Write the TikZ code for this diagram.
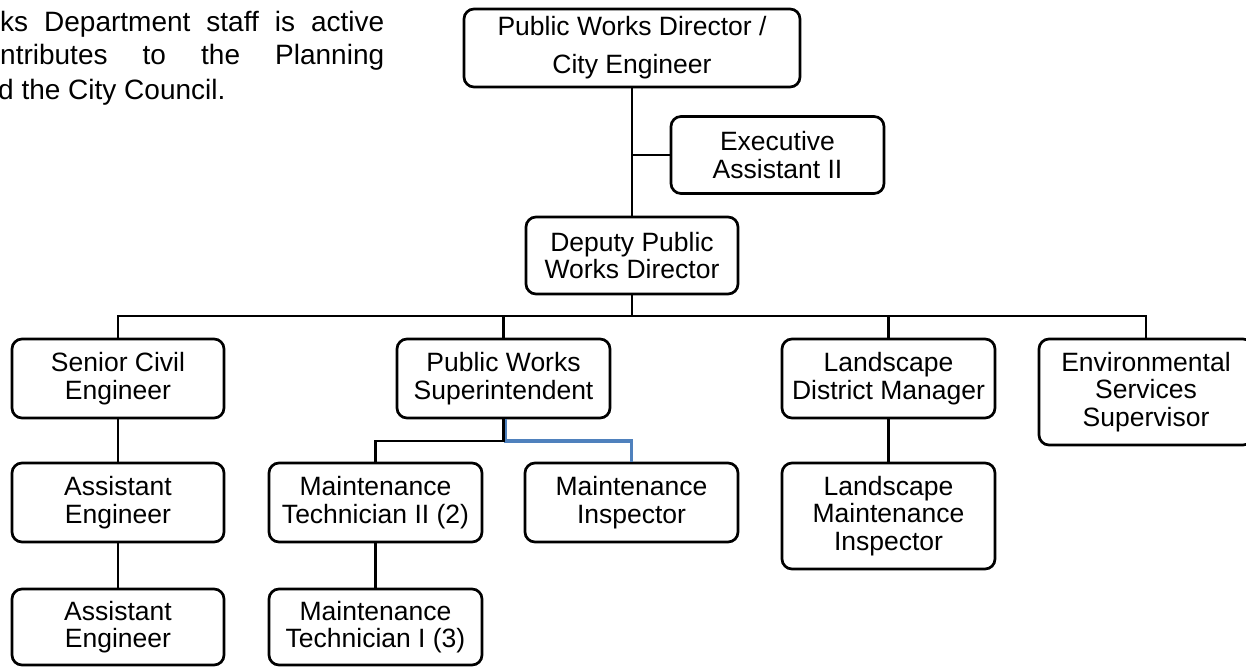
\documentclass[tikz,border=0pt]{standalone}
\usepackage{fontspec}
\setmainfont{Liberation Sans}
\definecolor{linkblue}{RGB}{79,129,189}
\begin{document}
\begin{tikzpicture}[x=1pt,y=-1pt,
  box/.style={draw, line width=2.7pt, rounded corners=10pt, inner sep=0pt, align=center,
    minimum width=213pt, minimum height=79pt, font=\fontsize{26.5}{27.7}\selectfont},
  conn/.style={line width=2.6pt},
  blueconn/.style={line width=3.6pt, draw=linkblue},
  para/.style={anchor=base west, inner sep=0pt, font=\fontsize{28}{34}\selectfont}]
\useasboundingbox (0,0) rectangle (1246,666);

% paragraph fragment
\node[para] (p1) at (0,32) {\makebox[384pt][s]{ks Department staff is active}};
\node[para] (p2) at (0,65) {\makebox[384pt][s]{ntributes to the Planning}};
\node[para] (p3) at (-2,100) {d the City Council.};

% boxes
\node[box, minimum width=336pt, minimum height=78pt, font=\fontsize{26.5}{38}\selectfont] (top) at (632,48) {Public Works Director /\\City Engineer};
\node[box, minimum height=77pt] (exec) at (777.5,155) {Executive\\Assistant II};
\node[box, minimum width=212pt, minimum height=77pt] (deputy) at (632,255.5) {Deputy Public\\Works Director};

\node[box, minimum width=212pt] (senior) at (118,378.5) {Senior Civil\\Engineer};
\node[box] (pws) at (503.5,378.5) {Public Works\\Superintendent};
\node[box] (ldm) at (888.5,378.5) {Landscape\\District Manager};
\node[box, minimum width=214pt, minimum height=106pt] (env) at (1146,392) {Environmental\\Services\\Supervisor};

\node[box, minimum width=212pt] (ae1) at (118,502.5) {Assistant\\Engineer};
\node[box, minimum width=212pt, minimum height=76pt] (ae2) at (118,627) {Assistant\\Engineer};
\node[box] (mt2) at (375.5,502.5) {Maintenance\\Technician II (2)};
\node[box, minimum height=76pt] (mt1) at (375.5,627) {Maintenance\\Technician I (3)};
\node[box] (mi) at (631.5,502.5) {Maintenance\\Inspector};
\node[box, minimum height=106pt] (lmi) at (888.5,516) {Landscape\\Maintenance\\Inspector};

% connectors
\coordinate (bus) at (632,316);
\coordinate (sub) at (503.5,441);
\draw[conn] (top.south) -- (deputy.north);
\draw[conn] (exec.west) -- (exec.west -| top.south);
\draw[conn] (deputy.south) -- (bus);
\draw[conn] (senior.north) |- (env.north |- bus) -- (env.north);
\draw[conn] (pws.north) -- (pws.north |- bus);
\draw[conn] (ldm.north) -- (ldm.north |- bus);
\draw[conn] (senior.south) -- (ae1.north);
\draw[conn] (ae1.south) -- (ae2.north);
\draw[conn] (mt2.south) -- (mt1.north);
\draw[conn] (ldm.south) -- (lmi.north);
\draw[blueconn] ([xshift=2pt]pws.south) |- (mi.north |- sub) -- (mi.north);
\draw[conn] (pws.south) -- (sub) -| (mt2.north);
\end{tikzpicture}
\end{document}
